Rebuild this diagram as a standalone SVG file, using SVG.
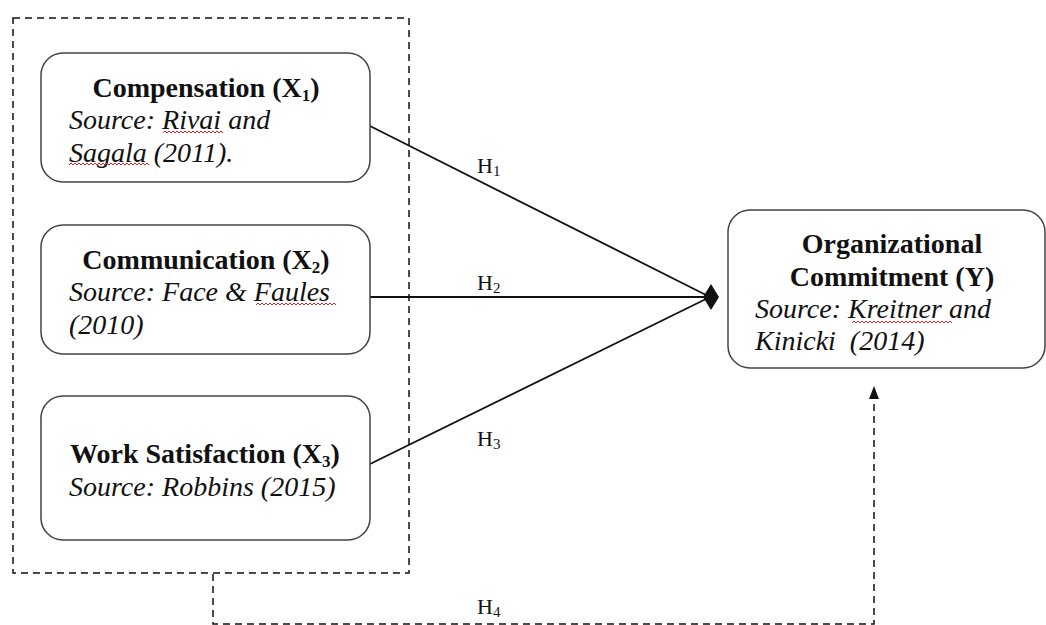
<svg xmlns="http://www.w3.org/2000/svg" width="1046" height="625" viewBox="0 0 1046 625">
<style>
.box{fill:#fff;stroke:#444;stroke-width:1.5}
.dash{fill:none;stroke:#111;stroke-width:1.5;stroke-dasharray:7 5}
.ln{fill:none;stroke:#111;stroke-width:1.8}
.b{font-family:"Liberation Serif",serif;font-weight:bold;font-size:28px;fill:#111}
.i{font-family:"Liberation Serif",serif;font-style:italic;font-size:28px;fill:#111}
.h{font-family:"Liberation Serif",serif;font-size:22px;fill:#111}
.sub{font-size:17px}
.hs{font-size:15px}
.sq{fill:none;stroke:#e02020;stroke-width:1}
</style>
<rect width="1046" height="625" fill="#fff"/>
<g id="group-frame"><rect class="dash" x="13" y="18" width="396" height="555"/></g>
<g id="connectors">
<line class="ln" x1="370" y1="126" x2="708" y2="296"/>
<line class="ln" x1="370" y1="297" x2="708" y2="297"/>
<line class="ln" x1="370" y1="464" x2="708" y2="298"/>
<polygon points="703,297 711,284 719,297 711,310" fill="#111"/>
<polyline class="dash" points="213,574 213,624 874,624 874,396"/>
<polygon points="874,386 869,399 879,399" fill="#111"/>
<text class="h" x="477" y="173">H<tspan class="hs" dy="3">1</tspan></text>
<text class="h" x="477" y="290">H<tspan class="hs" dy="3">2</tspan></text>
<text class="h" x="477" y="446">H<tspan class="hs" dy="3">3</tspan></text>
<text class="h" x="477" y="614">H<tspan class="hs" dy="3">4</tspan></text>
</g>
<g id="node-x1">
<rect class="box" x="41" y="53" width="329" height="129" rx="22"/>
<text class="b" x="206" y="97" text-anchor="middle">Compensation (X<tspan class="sub" dy="4">1</tspan><tspan dy="-4">)</tspan></text>
<text class="i" x="69" y="129">Source: Rivai and</text>
<text class="i" x="69" y="162">Sagala (2011).</text>
<path class="sq" d="M163,133 l2,-2 2,2 2,-2 2,2 2,-2 2,2 2,-2 2,2 2,-2 2,2 2,-2 2,2 2,-2 2,2 2,-2 2,2 2,-2 2,2 2,-2 2,2 2,-2 2,2 2,-2 2,2 2,-2 2,2 2,-2 2,2 2,-2 2,2"/>
<path class="sq" d="M69,165 l2,-2 2,2 2,-2 2,2 2,-2 2,2 2,-2 2,2 2,-2 2,2 2,-2 2,2 2,-2 2,2 2,-2 2,2 2,-2 2,2 2,-2 2,2 2,-2 2,2 2,-2 2,2 2,-2 2,2 2,-2 2,2 2,-2 2,2 2,-2 2,2 2,-2 2,2 2,-2 2,2 2,-2 2,2 2,-2 2,2"/>
</g>
<g id="node-x2">
<rect class="box" x="41" y="225" width="329" height="129" rx="22"/>
<text class="b" x="206" y="269" text-anchor="middle">Communication (X<tspan class="sub" dy="4">2</tspan><tspan dy="-4">)</tspan></text>
<text class="i" x="69" y="301">Source: Face &amp; Faules</text>
<path class="sq" d="M256,305 l2,-2 2,2 2,-2 2,2 2,-2 2,2 2,-2 2,2 2,-2 2,2 2,-2 2,2 2,-2 2,2 2,-2 2,2 2,-2 2,2 2,-2 2,2 2,-2 2,2 2,-2 2,2 2,-2 2,2 2,-2 2,2 2,-2 2,2 2,-2 2,2 2,-2 2,2 2,-2 2,2 2,-2 2,2 2,-2 2,2"/>
<text class="i" x="69" y="334">(2010)</text>
</g>
<g id="node-x3">
<rect class="box" x="41" y="396" width="329" height="144" rx="22"/>
<text class="b" x="70" y="463">Work Satisfaction (X<tspan class="sub" dy="4">3</tspan><tspan dy="-4">)</tspan></text>
<text class="i" x="69" y="496">Source: Robbins (2015)</text>
</g>
<g id="node-y">
<rect class="box" x="728" y="210" width="317" height="158" rx="22"/>
<text class="b" x="892" y="253" text-anchor="middle">Organizational</text>
<text class="b" x="892" y="286" text-anchor="middle">Commitment (Y)</text>
<text class="i" x="755" y="318">Source: Kreitner and</text>
<path class="sq" d="M852,323 l2,-2 2,2 2,-2 2,2 2,-2 2,2 2,-2 2,2 2,-2 2,2 2,-2 2,2 2,-2 2,2 2,-2 2,2 2,-2 2,2 2,-2 2,2 2,-2 2,2 2,-2 2,2 2,-2 2,2 2,-2 2,2 2,-2 2,2 2,-2 2,2 2,-2 2,2 2,-2 2,2 2,-2 2,2 2,-2 2,2 2,-2 2,2 2,-2 2,2 2,-2 2,2 2,-2 2,2 2,-2 2,2"/>
<text class="i" x="755" y="350">Kinicki&#160; (2014)</text>
</g>
</svg>
